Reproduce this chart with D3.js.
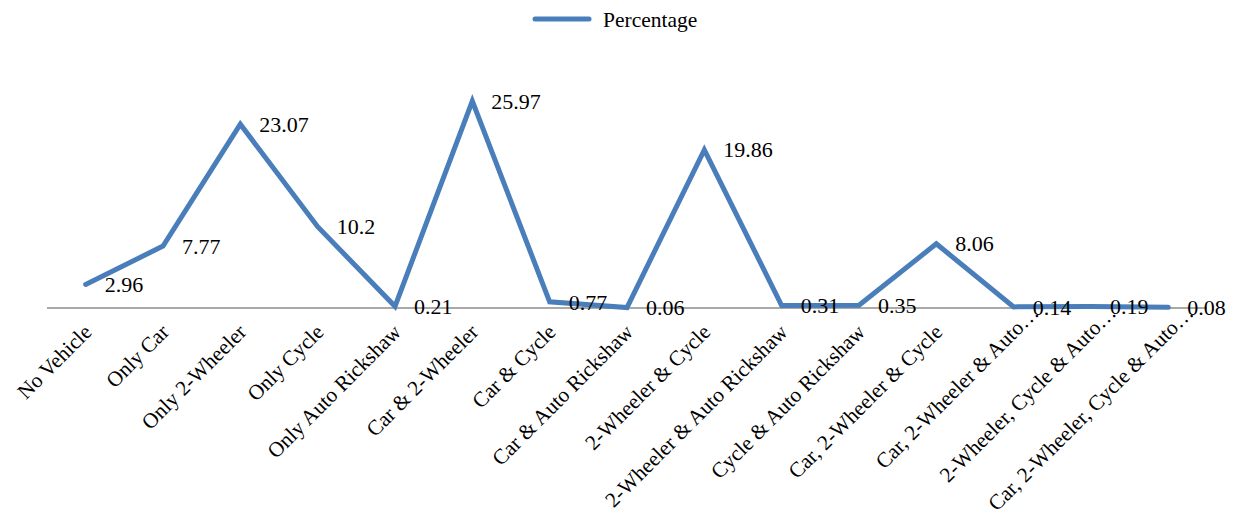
<!DOCTYPE html>
<html><head><meta charset="utf-8">
<script src="https://cdn.jsdelivr.net/npm/d3@7"></script>
<style>body{margin:0;background:#fff}svg{display:block}</style>
</head><body><svg id="c" width="1236" height="517"></svg>
<script>
const categories = ["No Vehicle","Only Car","Only 2-Wheeler","Only Cycle","Only Auto Rickshaw","Car & 2-Wheeler","Car & Cycle","Car & Auto Rickshaw","2-Wheeler & Cycle","2-Wheeler & Auto Rickshaw","Cycle & Auto Rickshaw","Car, 2-Wheeler & Cycle","Car, 2-Wheeler & Auto…","2-Wheeler, Cycle & Auto…","Car, 2-Wheeler, Cycle & Auto…"];
const percentage = [2.96,7.77,23.07,10.2,0.21,25.97,0.77,0.06,19.86,0.31,0.35,8.06,0.14,0.19,0.08];
const valueLabels = ["2.96","7.77","23.07","10.2","0.21","25.97","0.77","0.06","19.86","0.31","0.35","8.06","0.14","0.19","0.08"];
const seriesName = "Percentage";

const FONT = "'Liberation Serif', 'Times New Roman', 'DejaVu Serif', serif";
const svg = d3.select("#c").attr("font-family", FONT);
const x = d3.scalePoint().domain(categories).range([47,1207]).padding(0.5);
const y = d3.scaleLinear().domain([0,30]).range([308,69]);
const blue = "#4a7ebb";

// axis
svg.append("line").attr("x1",47).attr("x2",1207).attr("y1",y(0)).attr("y2",y(0))
  .attr("stroke","#8c8c8c").attr("stroke-width",1.5);

// line
svg.append("path").datum(percentage)
  .attr("d", d3.line().x((d,i)=>x(categories[i])).y(d=>y(d)))
  .attr("fill","none").attr("stroke",blue).attr("stroke-width",5)
  .attr("stroke-linejoin","miter").attr("stroke-linecap","round");

// data labels
svg.selectAll(".vl").data(percentage).join("text").attr("class","vl")
  .attr("font-family", FONT)
  .attr("x",(d,i)=>x(categories[i])+19).attr("y",d=>y(d)).attr("dy","0.35em")
  .attr("font-size",22).text((d,i)=>valueLabels[i]);

// category labels (truncated ones sit further along the text direction, as in the original)
svg.selectAll(".cl").data(categories).join("text").attr("class","cl")
  .attr("font-family", FONT)
  .attr("transform",d=>`translate(${x(d)+2},${y(0)+20}) rotate(-45)`)
  .attr("text-anchor","end").attr("dy","0.35em")
  .attr("dx", d => d.endsWith("…") ? 27 : 0)
  .attr("font-size",21.3).text(d=>d);

// legend
svg.append("line").attr("x1",535).attr("x2",589).attr("y1",19).attr("y2",19)
  .attr("stroke",blue).attr("stroke-width",5).attr("stroke-linecap","round");
svg.append("text").attr("font-family", FONT).attr("x",603).attr("y",19).attr("dy","0.35em").attr("font-size",21.5).text(seriesName);
</script></body></html>
